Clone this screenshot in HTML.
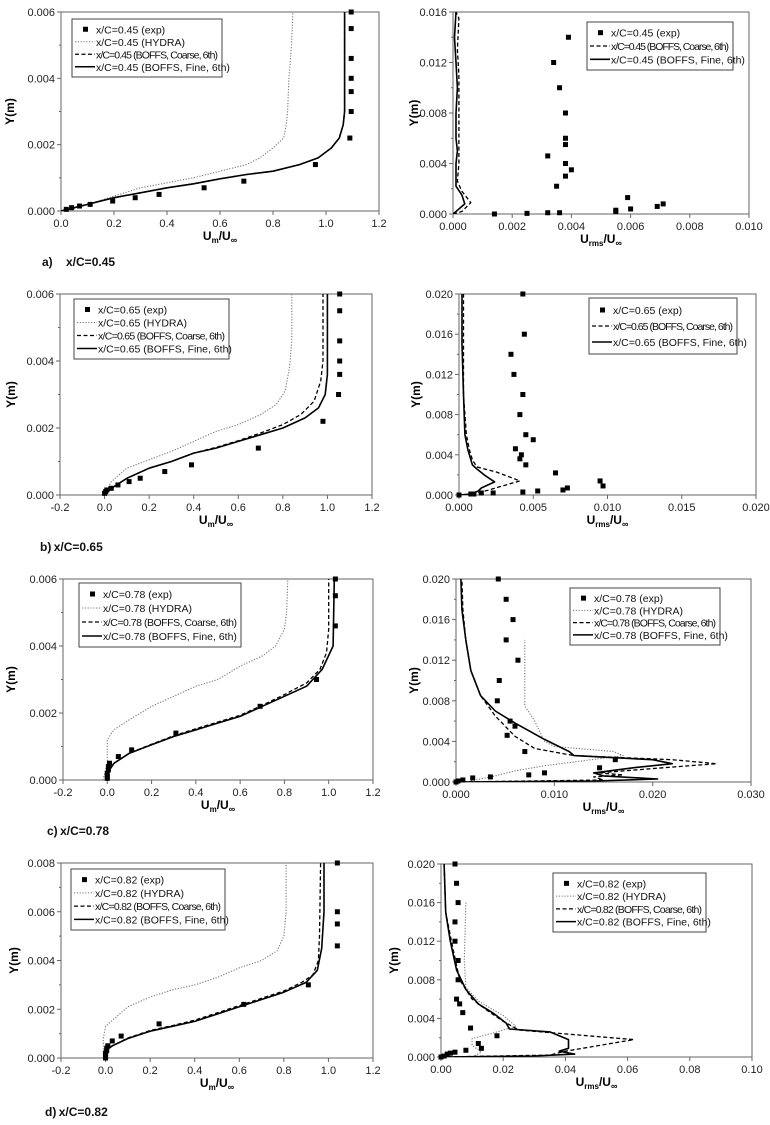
<!DOCTYPE html>
<html><head><meta charset="utf-8">
<style>
html,body{margin:0;padding:0;background:#fff;}
svg{display:block;font-family:"Liberation Sans",sans-serif;}
</style></head>
<body>
<svg id="fig" width="770" height="1125" viewBox="0 0 770 1125"></svg>
<script>
// ---------- DATA ----------
const aL_exp=[[0.02,0.00005],[0.04,0.0001],[0.07,0.00015],[0.11,0.0002],[0.195,0.0003],[0.28,0.0004],[0.37,0.0005],[0.54,0.0007],[0.69,0.0009],[0.96,0.0014],[1.09,0.0022],[1.095,0.003],[1.095,0.0036],[1.095,0.004],[1.095,0.0046],[1.095,0.0055],[1.095,0.006]];
const aL_hydra=[[0,0],[0.1,0.0002],[0.2,0.00045],[0.3,0.0007],[0.4,0.00085],[0.5,0.001],[0.6,0.0012],[0.7,0.0014],[0.75,0.0016],[0.8,0.0019],[0.84,0.0022],[0.85,0.0026],[0.855,0.003],[0.86,0.004],[0.87,0.005],[0.875,0.006]];
const aL_coarse=[[0,0],[0.05,0.0001],[0.1,0.0002],[0.2,0.0004],[0.3,0.00055],[0.4,0.0007],[0.5,0.00082],[0.6,0.00097],[0.7,0.0011],[0.8,0.0012],[0.9,0.0014],[0.97,0.0016],[1.02,0.0019],[1.05,0.0022],[1.065,0.0026],[1.07,0.003],[1.07,0.006]];
const aL_fine=[[0,0],[0.05,0.0001],[0.1,0.0002],[0.2,0.0004],[0.3,0.00055],[0.4,0.0007],[0.5,0.00082],[0.6,0.00097],[0.7,0.0011],[0.8,0.0012],[0.9,0.0014],[0.97,0.0016],[1.02,0.0019],[1.05,0.0022],[1.065,0.0026],[1.07,0.003],[1.07,0.006]];

const aR_exp=[[0.0014,0],[0.0025,0.00005],[0.0032,0.0001],[0.0036,0.0001],[0.0055,0.0002],[0.0055,0.0003],[0.006,0.0004],[0.0069,0.0006],[0.0071,0.0008],[0.0059,0.0013],[0.0035,0.0022],[0.0038,0.003],[0.004,0.0035],[0.0038,0.004],[0.0032,0.0046],[0.0038,0.0055],[0.0038,0.006],[0.0038,0.008],[0.0036,0.01],[0.0034,0.012],[0.0039,0.014]];
const aR_coarse=[[0,0],[0.0003,0.0002],[0.0006,0.0009],[0.0003,0.0018],[0.00015,0.0026],[0.0002,0.004],[0.0002,0.005],[0.0002,0.007],[0.0002,0.009],[0.0002,0.011],[0.00015,0.013],[0.0002,0.0155],[0.0001,0.016]];
const aR_fine=[[0,0],[0.0001,0.0002],[0.0004,0.0008],[0.0003,0.0015],[0.0001,0.0022],[0.0001,0.0028],[0.0001,0.004],[0.00015,0.005],[0.0001,0.006],[0.0001,0.008],[0.00015,0.01],[0.0001,0.012],[0.00005,0.014],[0.0001,0.016]];

const bL_exp=[[0,0.00005],[0.005,0.0001],[0.01,0.00015],[0.03,0.0002],[0.06,0.0003],[0.11,0.0004],[0.16,0.0005],[0.27,0.0007],[0.39,0.0009],[0.69,0.0014],[0.98,0.0022],[1.05,0.003],[1.055,0.0036],[1.055,0.004],[1.055,0.0046],[1.055,0.0055],[1.055,0.006]];
const bL_hydra=[[0,0],[0.03,0.0004],[0.1,0.0008],[0.2,0.00105],[0.3,0.0013],[0.4,0.0016],[0.5,0.0019],[0.6,0.0021],[0.7,0.0024],[0.77,0.0027],[0.81,0.0031],[0.83,0.0038],[0.84,0.0046],[0.84,0.006]];
const bL_coarse=[[0,0],[0.03,0.0002],[0.1,0.0005],[0.2,0.0008],[0.3,0.001],[0.4,0.00125],[0.5,0.00142],[0.6,0.00162],[0.7,0.00185],[0.8,0.0021],[0.88,0.0024],[0.94,0.0028],[0.97,0.0034],[0.98,0.004],[0.98,0.006]];
const bL_fine=[[0,0],[0.03,0.0002],[0.1,0.0005],[0.2,0.0008],[0.3,0.001],[0.4,0.00125],[0.5,0.0014],[0.6,0.0016],[0.7,0.0018],[0.8,0.002],[0.9,0.0023],[0.96,0.0026],[0.99,0.003],[1.0,0.0036],[1.0,0.006]];

const bR_exp=[[0,0],[0.0008,0.0001],[0.001,0.0001],[0.0015,0.0002],[0.0023,0.0002],[0.0043,0.0003],[0.0053,0.0004],[0.007,0.0005],[0.0073,0.0007],[0.0097,0.0009],[0.0095,0.0014],[0.0065,0.0022],[0.0045,0.003],[0.0041,0.0036],[0.0042,0.004],[0.0038,0.0046],[0.005,0.0055],[0.0045,0.006],[0.0041,0.008],[0.0043,0.01],[0.0037,0.012],[0.0035,0.014],[0.0044,0.016],[0.0043,0.02]];
const bR_coarse=[[0,0],[0.001,0.0001],[0.002,0.0005],[0.0041,0.0014],[0.0025,0.0023],[0.0012,0.0028],[0.0009,0.0035],[0.0007,0.0045],[0.0005,0.006],[0.0003,0.01],[0.0003,0.015],[0.0003,0.02]];
const bR_fine=[[0,0],[0.0008,0.0001],[0.0013,0.0004],[0.0015,0.0007],[0.0024,0.0013],[0.0017,0.002],[0.0012,0.0026],[0.0009,0.003],[0.0006,0.0045],[0.0004,0.006],[0.0003,0.01],[0.0002,0.015],[0.0002,0.02]];

const cL_exp=[[0,0.00005],[0,0.0001],[0,0.0002],[0.005,0.0003],[0.005,0.0004],[0.01,0.0005],[0.05,0.0007],[0.11,0.0009],[0.31,0.0014],[0.69,0.0022],[0.945,0.003],[1.03,0.0046],[1.03,0.0055],[1.03,0.006]];
const cL_hydra=[[-0.02,0],[0,0.0005],[0,0.0012],[0.03,0.0015],[0.1,0.0018],[0.2,0.0022],[0.3,0.0025],[0.4,0.0028],[0.5,0.003],[0.6,0.0034],[0.7,0.0037],[0.76,0.004],[0.8,0.0045],[0.81,0.005],[0.815,0.006]];
const cL_coarse=[[0,0],[0,0.0002],[0.03,0.0005],[0.1,0.0008],[0.2,0.00107],[0.3,0.00132],[0.4,0.00153],[0.5,0.00173],[0.6,0.00193],[0.7,0.00223],[0.8,0.00255],[0.9,0.0029],[0.96,0.0033],[0.99,0.0038],[1.0,0.0045],[1.0,0.006]];
const cL_fine=[[0,0],[0,0.0002],[0.03,0.0005],[0.1,0.0008],[0.2,0.00105],[0.3,0.0013],[0.4,0.0015],[0.5,0.0017],[0.6,0.0019],[0.7,0.0022],[0.8,0.0025],[0.9,0.0028],[0.97,0.0033],[1.02,0.004],[1.025,0.006]];

const cR_exp=[[0,0],[0.0002,0.0001],[0.0007,0.0002],[0.0017,0.0004],[0.0035,0.0005],[0.0074,0.0007],[0.009,0.0009],[0.0146,0.0014],[0.0162,0.0022],[0.007,0.003],[0.0052,0.0046],[0.006,0.0055],[0.0055,0.006],[0.0042,0.008],[0.0044,0.01],[0.0063,0.012],[0.0051,0.014],[0.0058,0.016],[0.0051,0.018],[0.0043,0.02]];
const cR_hydra=[[0.0015,0.0001],[0.004,0.0006],[0.006,0.0011],[0.009,0.0016],[0.013,0.0021],[0.017,0.0026],[0.016,0.003],[0.01,0.0035],[0.009,0.004],[0.0085,0.005],[0.008,0.006],[0.007,0.0075],[0.007,0.014]];
const cR_coarse=[[0,0],[0.015,0.0002],[0.014,0.0005],[0.017,0.0007],[0.0145,0.0009],[0.021,0.0014],[0.0265,0.0018],[0.022,0.0022],[0.012,0.0026],[0.008,0.0033],[0.006,0.0045],[0.004,0.0065],[0.0025,0.0085],[0.0015,0.011],[0.001,0.014],[0.0007,0.017],[0.0006,0.02]];
const cR_fine=[[0,0],[0.014,0.0001],[0.0205,0.0003],[0.015,0.0006],[0.014,0.0009],[0.018,0.0014],[0.022,0.0018],[0.02,0.0022],[0.012,0.0026],[0.0115,0.003],[0.009,0.0042],[0.006,0.0058],[0.004,0.007],[0.0025,0.0085],[0.0015,0.011],[0.001,0.014],[0.0006,0.017],[0.0005,0.02]];

const dL_exp=[[0,0],[0,0.0001],[0,0.0002],[0.005,0.0003],[0.005,0.0004],[0.01,0.0005],[0.03,0.0007],[0.07,0.0009],[0.24,0.0014],[0.62,0.0022],[0.91,0.003],[1.04,0.0046],[1.04,0.0055],[1.04,0.006],[1.04,0.008]];
const dL_hydra=[[-0.01,0],[-0.01,0.0008],[0,0.0013],[0.05,0.0017],[0.1,0.0021],[0.2,0.0025],[0.3,0.0028],[0.4,0.003],[0.5,0.0033],[0.6,0.0037],[0.7,0.004],[0.77,0.0044],[0.8,0.005],[0.81,0.006],[0.81,0.008]];
const dL_coarse=[[0,0],[0,0.0003],[0.03,0.0005],[0.1,0.00082],[0.2,0.00113],[0.3,0.00133],[0.4,0.00155],[0.5,0.00185],[0.6,0.00215],[0.7,0.00245],[0.8,0.00275],[0.88,0.0031],[0.93,0.0034],[0.955,0.004],[0.96,0.005],[0.965,0.008]];
const dL_fine=[[0,0],[0,0.0003],[0.03,0.0005],[0.1,0.0008],[0.2,0.0011],[0.3,0.0013],[0.4,0.0015],[0.5,0.0018],[0.6,0.0021],[0.7,0.0024],[0.8,0.0027],[0.9,0.0031],[0.95,0.0036],[0.97,0.0045],[0.98,0.006],[0.98,0.008]];

const dR_exp=[[0,0],[0.001,0.0001],[0.002,0.0003],[0.003,0.0004],[0.0045,0.0005],[0.008,0.0007],[0.013,0.0009],[0.012,0.0014],[0.018,0.0022],[0.0095,0.003],[0.007,0.0046],[0.006,0.0055],[0.005,0.006],[0.0055,0.008],[0.0055,0.01],[0.0045,0.012],[0.0045,0.014],[0.0055,0.016],[0.005,0.018],[0.0045,0.02]];
const dR_hydra=[[0.01,0],[0.013,0.0005],[0.01,0.0012],[0.01,0.0019],[0.018,0.0026],[0.024,0.0032],[0.02,0.0043],[0.012,0.0058],[0.008,0.0072],[0.0075,0.01],[0.008,0.016]];
const dR_coarse=[[0,0],[0.035,0.0002],[0.04,0.0006],[0.062,0.0018],[0.025,0.0028],[0.02,0.0037],[0.015,0.0048],[0.01,0.006],[0.006,0.008],[0.004,0.011],[0.0015,0.015],[0.001,0.02]];
const dR_fine=[[0,0],[0.03,0.0001],[0.043,0.0003],[0.038,0.0006],[0.041,0.0009],[0.041,0.0018],[0.035,0.0026],[0.022,0.0029],[0.021,0.0035],[0.017,0.0045],[0.012,0.0055],[0.008,0.007],[0.005,0.009],[0.003,0.012],[0.0015,0.015],[0.001,0.02]];

const xTicksLeftA=[0,0.2,0.4,0.6,0.8,1.0,1.2];
const xTicksLeft=[-0.2,0,0.2,0.4,0.6,0.8,1.0,1.2];
const yTicks006=[0,0.002,0.004,0.006];
const yTicks008=[0,0.002,0.004,0.006,0.008];
const yTicks016=[0,0.004,0.008,0.012,0.016];
const yTicks020=[0,0.004,0.008,0.012,0.016,0.020];
const xTicksAR=[0,0.002,0.004,0.006,0.008,0.010];
const xTicksBR=[0,0.005,0.010,0.015,0.020];
const xTicksCR=[0,0.010,0.020,0.030];
const xTicksDR=[0,0.02,0.04,0.06,0.08,0.10];

// ---------- RENDER ----------
const NS='http://www.w3.org/2000/svg';
const svg=document.getElementById('fig');
function mk(tag,attrs,parent){const e=document.createElementNS(NS,tag);for(const k in attrs)e.setAttribute(k,attrs[k]);(parent||svg).appendChild(e);return e;}
const STY={hydra:{stroke:'#777',dash:'1.2,1.6',w:1.1},coarse:{stroke:'#000',dash:'4,2.5',w:1.3},fine:{stroke:'#000',dash:'',w:1.6}};

function panel(c){
  const g=mk('g',{});
  
  
  const sx=v=>c.L+(v-c.x0)/(c.x1-c.x0)*(c.R-c.L);
  const sy=v=>c.B-(v-c.y0)/(c.y1-c.y0)*(c.B-c.T);
  const fr=mk('rect',{x:c.L,y:c.T,width:c.R-c.L,height:c.B-c.T,fill:'#fff',stroke:'#666','stroke-width':1},g);
  
  
  for(let i=0;i<c.yt.length;i++){
    const v=c.yt[i],y=sy(v);
    mk('line',{x1:c.L-4,x2:c.L,y1:y,y2:y,stroke:'#666'},g);
    if(i<c.yt.length-1){const ym=sy((v+c.yt[i+1])/2);mk('line',{x1:c.L-2,x2:c.L,y1:ym,y2:ym,stroke:'#666'},g);}
    const t=mk('text',{x:c.L-6,y:y+4,'font-size':11,'text-anchor':'end',fill:'#222'},g);
    t.textContent=v.toFixed(3);
    
    
  }
  for(const v of c.xt){
    const x=sx(v);
    mk('line',{x1:x,x2:x,y1:c.B,y2:c.B+4,stroke:'#666'},g);
    const t=mk('text',{x:x,y:c.B+16,'font-size':11,'text-anchor':'middle',fill:'#222'},g);
    t.textContent=v.toFixed(c.xd);
    
    
  }
  const yt=mk('text',{x:c.yx,y:(c.T+c.B)/2,'font-size':12,'font-weight':'bold','text-anchor':'middle',transform:`rotate(-90 ${c.yx} ${(c.T+c.B)/2})`},g);
  yt.textContent='Y(m)';
  
  
  const xt=mk('text',{x:(c.L+c.R)/2,y:c.B+29,'font-size':12,'font-weight':'bold','text-anchor':'middle'},g);
  xt.innerHTML=`U<tspan font-size="8" dy="3">${c.sub}</tspan><tspan dy="-3">/U</tspan><tspan font-size="9" dy="3">∞</tspan>`;
  
  
  const clip='clip-'+c.name;
  const cp=mk('clipPath',{id:clip},g);mk('rect',{x:c.L,y:c.T-1,width:c.R-c.L,height:c.B-c.T+1},cp);
  for(const s of ['hydra','coarse','fine']){
    if(!c[s])continue;
    const st=STY[s];
    const p=mk('polyline',{points:c[s].map(d=>sx(d[0]).toFixed(1)+','+sy(d[1]).toFixed(1)).join(' '),fill:'none',stroke:st.stroke,'stroke-width':st.w,'stroke-dasharray':st.dash,'clip-path':`url(#${clip})`,'stroke-linejoin':'round'},g);
    
    
  }
  for(const d of c.exp){
    const r=mk('rect',{x:sx(d[0])-2.5,y:sy(d[1])-2.5,width:5,height:5,fill:'#000'},g);
    
    
  }
  const keys=['exp'].concat(['hydra','coarse','fine'].filter(k=>c[k]));
  const lab={exp:'(exp)',hydra:'(HYDRA)',coarse:'(BOFFS, Coarse, 6th)',fine:'(BOFFS, Fine, 6th)'};
  const lg=mk('g',{},g);
  
  
  mk('rect',{x:c.lx,y:c.ly,width:c.lw,height:c.lh,fill:'#fff',stroke:'#444','stroke-width':1},lg);
  const step=(c.lh-8)/keys.length;
  keys.forEach((k,i)=>{
    const cy=c.ly+4+step*(i+0.5);
    const e=mk('g',{},lg);
    
    
    if(k==='exp')mk('rect',{x:c.lx+11,y:cy-2.5,width:5,height:5,fill:'#000'},e);
    else{const st=STY[k];mk('line',{x1:c.lx+3,x2:c.lx+23,y1:cy,y2:cy,stroke:st.stroke,'stroke-width':st.w,'stroke-dasharray':st.dash},e);}
    const t=mk('text',{x:c.lx+24,y:cy+4,'font-size':10.5,fill:'#111'},e);
    t.textContent='x/C='+c.xc+' '+lab[k];
    if(k==='coarse') t.setAttribute('textLength',c.lw-28);
  });
}

panel({name:'panel-a-mean',L:61,R:379,T:12,B:211,x0:0,x1:1.2,y0:0,y1:0.006,xt:xTicksLeftA,xd:1,yt:yTicks006,yx:14,sub:'m',exp:aL_exp,hydra:aL_hydra,coarse:aL_coarse,fine:aL_fine,xc:'0.45',lx:72,ly:19,lw:150,lh:58});
panel({name:'panel-a-rms',L:453,R:749,T:12,B:214,x0:0,x1:0.010,y0:0,y1:0.016,xt:xTicksAR,xd:3,yt:yTicks016,yx:418,sub:'rms',exp:aR_exp,coarse:aR_coarse,fine:aR_fine,xc:'0.45',lx:587,ly:22,lw:146,lh:48});
panel({name:'panel-b-mean',L:60,R:372,T:294,B:495,x0:-0.2,x1:1.2,y0:0,y1:0.006,xt:xTicksLeft,xd:1,yt:yTicks006,yx:15,sub:'m',exp:bL_exp,hydra:bL_hydra,coarse:bL_coarse,fine:bL_fine,xc:'0.65',lx:74,ly:299,lw:155,lh:60});
panel({name:'panel-b-rms',L:459,R:756,T:294,B:495,x0:0,x1:0.020,y0:0,y1:0.020,xt:xTicksBR,xd:3,yt:yTicks020,yx:420,sub:'rms',exp:bR_exp,coarse:bR_coarse,fine:bR_fine,xc:'0.65',lx:589,ly:298,lw:148,lh:56});
panel({name:'panel-c-mean',L:63,R:373,T:579,B:780,x0:-0.2,x1:1.2,y0:0,y1:0.006,xt:xTicksLeft,xd:1,yt:yTicks006,yx:15,sub:'m',exp:cL_exp,hydra:cL_hydra,coarse:cL_coarse,fine:cL_fine,xc:'0.78',lx:79,ly:583,lw:162,lh:64});
panel({name:'panel-c-rms',L:456,R:751,T:579,B:782,x0:0,x1:0.030,y0:0,y1:0.020,xt:xTicksCR,xd:3,yt:yTicks020,yx:418,sub:'rms',exp:cR_exp,hydra:cR_hydra,coarse:cR_coarse,fine:cR_fine,xc:'0.78',lx:570,ly:588,lw:150,lh:57});
panel({name:'panel-d-mean',L:61,R:373,T:863,B:1058,x0:-0.2,x1:1.2,y0:0,y1:0.008,xt:xTicksLeft,xd:1,yt:yTicks008,yx:18,sub:'m',exp:dL_exp,hydra:dL_hydra,coarse:dL_coarse,fine:dL_fine,xc:'0.82',lx:71,ly:869,lw:154,lh:61});
panel({name:'panel-d-rms',L:441,R:752,T:864,B:1057,x0:0,x1:0.10,y0:0,y1:0.020,xt:xTicksDR,xd:2,yt:yTicks020,yx:398,sub:'rms',exp:dR_exp,hydra:dR_hydra,coarse:dR_coarse,fine:dR_fine,xc:'0.82',lx:553,ly:873,lw:153,lh:59});

const caps=[['caption-a','a)\u00a0\u00a0\u00a0 x/C=0.45',42,266],['caption-b','b)\u2009x/C=0.65',40,551],['caption-c','c)\u2009x/C=0.78',47,835],['caption-d','d)\u2009x/C=0.82',45,1116]];
for(const c of caps){
  const t=mk('text',{x:c[2],y:c[3],'font-size':12,'font-weight':'bold',fill:'#111'});
  t.textContent=c[1];
  
  
}
</script>
</body></html>
